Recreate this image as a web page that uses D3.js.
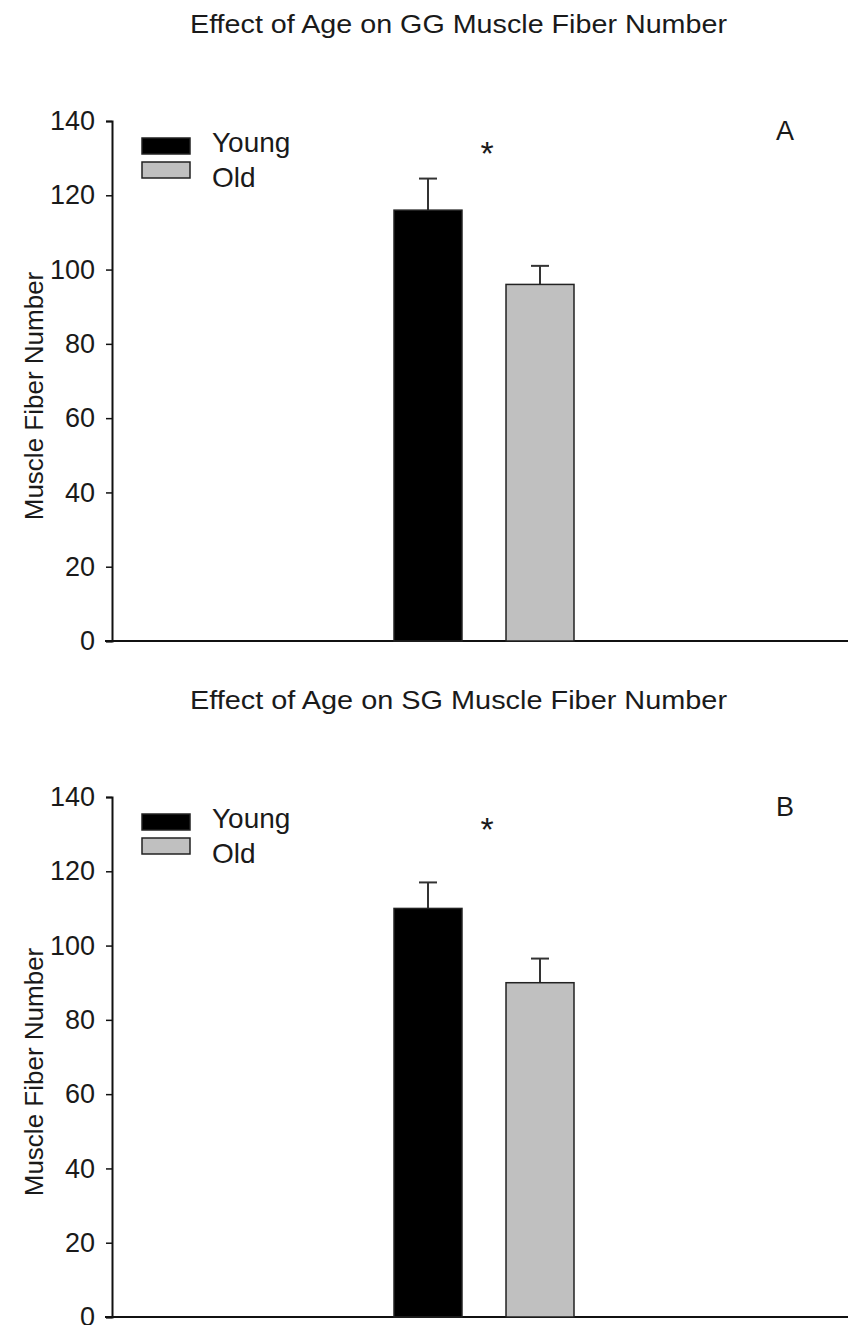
<!DOCTYPE html>
<html>
<head>
<meta charset="utf-8">
<script src="https://cdn.jsdelivr.net/npm/d3@7"></script>
<style>
  body { margin: 0; background: #fff; }
  text { font-family: "Liberation Sans", Arial, sans-serif; fill: #1a1a1a; }
</style>
</head>
<body>
<div id="chart"></div>
<script>
// data
var groups = ["Young", "Old"];
var groupColors = ["#000000", "#c0c0c0"];
var yTicks = [0, 20, 40, 60, 80, 100, 120, 140];

var panelTitles = ["Effect of Age on GG Muscle Fiber Number", "Effect of Age on SG Muscle Fiber Number"];
var panelLetters = ["A", "B"];
var meansGG = [116, 96];
var errorsGG = [8.5, 5];
var meansSG = [110, 90];
var errorsSG = [7, 6.5];

var width = 848, height = 1325;

var svg = d3.select("#chart").append("svg")
    .attr("width", width)
    .attr("height", height);

function drawPanel(top, title, letter, means, errors) {
    var g = svg.append("g").attr("transform", "translate(0," + top + ")");

    var y = d3.scaleLinear().domain([0, 140]).range([641, 121]);
    var x = d3.scaleBand().domain(groups).range([394, 574])
        .paddingInner(0.393).paddingOuter(0);

    // title (the scan is a bit stretched sideways)
    g.append("text")
        .attr("x", 190)
        .attr("y", 33)
        .attr("textLength", 537)
        .attr("lengthAdjust", "spacingAndGlyphs")
        .style("font-size", "25px")
        .text(title);

    // y axis
    var yAxis = g.append("g")
        .attr("transform", "translate(112,0)")
        .call(d3.axisLeft(y).tickValues(yTicks).tickSize(6).tickPadding(11));
    yAxis.select(".domain").attr("stroke", "#111").attr("stroke-width", 2);
    yAxis.selectAll(".tick line").attr("stroke", "#111").attr("stroke-width", 1.5);
    yAxis.selectAll(".tick text")
        .style("font-size", "27px")
        .style("font-family", "'Liberation Sans', Arial, sans-serif")
        .attr("fill", "#1a1a1a");

    // x axis baseline
    g.append("line")
        .attr("x1", 105).attr("x2", width)
        .attr("y1", y(0)).attr("y2", y(0))
        .attr("stroke", "#111").attr("stroke-width", 2);

    // y axis title
    g.append("text")
        .attr("transform", "translate(43," + ((y(0) + y(140)) / 2 + 15) + ") rotate(-90)")
        .style("text-anchor", "middle")
        .style("font-size", "26px")
        .text("Muscle Fiber Number");

    // error bars (upper only)
    groups.forEach(function (d, i) {
        var cx = x(d) + x.bandwidth() / 2;
        g.append("line")
            .attr("x1", cx).attr("x2", cx)
            .attr("y1", y(means[i])).attr("y2", y(means[i] + errors[i]))
            .attr("stroke", "#333").attr("stroke-width", 2);
        g.append("line")
            .attr("x1", cx - 9).attr("x2", cx + 9)
            .attr("y1", y(means[i] + errors[i])).attr("y2", y(means[i] + errors[i]))
            .attr("stroke", "#333").attr("stroke-width", 2);
    });

    // bars
    g.selectAll(".bar")
        .data(groups)
        .enter().append("rect")
        .attr("class", "bar")
        .attr("x", function (d) { return x(d); })
        .attr("width", x.bandwidth())
        .attr("y", function (d, i) { return y(means[i]); })
        .attr("height", function (d, i) { return y(0) - y(means[i]); })
        .attr("fill", function (d, i) { return groupColors[i]; })
        .attr("stroke", "#222")
        .attr("stroke-width", 1.5);

    // significance star
    g.append("text")
        .attr("x", 487)
        .attr("y", 165)
        .style("text-anchor", "middle")
        .style("font-size", "34px")
        .text("*");

    // panel letter
    g.append("text")
        .attr("x", 785)
        .attr("y", 140)
        .style("text-anchor", "middle")
        .style("font-size", "27px")
        .text(letter);

    // legend
    var legend = g.append("g");
    groups.forEach(function (d, i) {
        legend.append("rect")
            .attr("x", 142)
            .attr("y", 138 + i * 24)
            .attr("width", 48)
            .attr("height", 16)
            .attr("fill", groupColors[i])
            .attr("stroke", "#222")
            .attr("stroke-width", 1.5);
        legend.append("text")
            .attr("x", 212)
            .attr("y", 152 + i * 35)
            .style("font-size", "28px")
            .text(d);
    });
}

drawPanel(0, panelTitles[0], panelLetters[0], meansGG, errorsGG);
drawPanel(676, panelTitles[1], panelLetters[1], meansSG, errorsSG);
</script>
</body>
</html>
